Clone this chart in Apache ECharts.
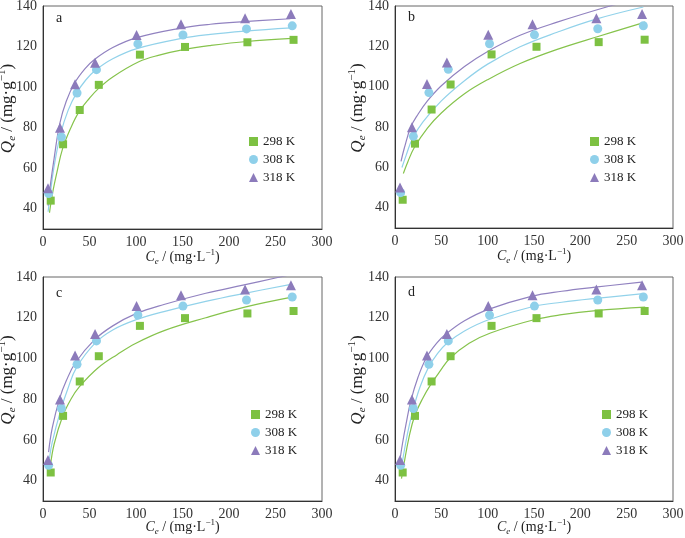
<!DOCTYPE html>
<html><head><meta charset="utf-8">
<script src="https://cdn.jsdelivr.net/npm/echarts@6/dist/echarts.min.js"></script>
<style>html,body{margin:0;padding:0;background:#fff}#c{width:685px;height:538px}</style>
</head><body><div id="c"></div>
<script>
// ---- data ----
const temps = ['298 K', '308 K', '318 K'];
const panelLetters = ['a', 'b', 'c', 'd'];
const xTicks = [0, 50, 100, 150, 200, 250, 300];
const yTicks = [40, 60, 80, 100, 120, 140];

const ce298 = [8.3, 21.6, 39.5, 60, 104.2, 152.7, 219.8, 269.4];
const qe298 = [44, 71.8, 88.7, 101.1, 116, 119.8, 122.1, 123.3];
const ce308 = [6.1, 19.8, 36.6, 57.5, 102, 150.5, 218.8, 268];
const qe308 = [47.5, 75.4, 97.1, 108.6, 121.3, 125.7, 128.7, 130.2];
const ce318 = [5.4, 18.3, 34.5, 56, 100.6, 148.4, 217.3, 266.6];
const qe318 = [50.1, 79.9, 101.4, 112, 125.7, 131, 133.9, 136];

// fitted curves, [Ce, Qe]
const fitA298 = [[7,38],[10,47],[15,58],[21,69.5],[30,80],[39,88],[50,94.5],[59,99],[75,105],[103,112.5],[125,115.8],[151,118.5],[180,120.5],[219,122.5],[268,124]];
const fitA308 = [[5.5,38.5],[8,48],[12,61],[19,77],[27,88.5],[36,97],[46,103.5],[56,108.2],[75,114],[101,119],[149,124],[180,126],[217,127.6],[267,129.2]];
const fitA318 = [[5.4,41.5],[8,52],[12,65],[18,82],[25,93],[34,102],[45,109],[55,113.5],[75,119.5],[100,124.3],[147,129],[180,131],[216,132.3],[266,133.7]];

const fitB298 = [[9,57],[14,63],[21,70],[35,79.5],[50,87],[75,96.5],[100,103.5],[135,111.5],[175,118.5],[220,125],[270,132]];
const fitB308 = [[7.5,60],[12,66],[19,74.5],[30,82.5],[50,93],[75,103],[100,111.2],[135,119.8],[175,127],[217,133.5],[268,139.5]];
const fitB318 = [[6.5,63],[10,69.5],[17,80],[25,86.5],[35,93],[50,100.5],[75,110],[100,117.5],[135,125.5],[175,132],[232,140],[250,142]];

const fitC298 = [[8,47.5],[12,58],[21,71.5],[30,80],[39,86],[59,95.3],[80,102],[100,107.5],[131,113.8],[175,120],[217,125.2],[269,130.2]];
const fitC308 = [[7,51],[10,59],[19,74.5],[27,85.5],[36,95.5],[56,107.5],[75,114],[100,119],[130,123],[175,128],[217,132],[268,136.5]];
const fitC318 = [[6,54],[10,66],[18,80.5],[25,89],[35,98],[55,109],[75,116],[100,122],[130,126.5],[175,132],[215,136],[250,139.5],[265,141]];

const fitD298 = [[7,41],[10,49],[15,61],[21,71.5],[30,80.5],[39,87.5],[49,94],[59,100],[80,107.5],[103,112.5],[150,119],[180,121.5],[217,123.5],[270,125.2]];
const fitD308 = [[6,44],[9,52],[13,62],[19,74],[27,86],[36,95.5],[46,102.5],[56,107.5],[75,113.5],[101,119],[149,125.5],[180,127.6],[217,129.5],[268,131.8]];
const fitD318 = [[5,49],[8,58],[12,68],[17,79],[25,91],[34,100.5],[45,107.5],[55,112],[75,118.5],[100,124],[147,130.5],[180,133],[216,135],[266,137.5]];

// ---- styling ----
const serif = '"Liberation Serif","Times New Roman",serif';
const colors = ['#7dc142', '#8fd0ea', '#8c7bbb'];
const lineColors = ['#86c34c', '#92d2ea', '#9182c0'];
const symbols = ['rect', 'circle', 'triangle'];
const symSizes = [8, 9, 10];

const grids = [
  {left: 43, top: 6, width: 279, height: 223},
  {left: 395, top: 6, width: 278, height: 222},
  {left: 43, top: 277, width: 279, height: 224},
  {left: 395, top: 277, width: 278, height: 224}
];
const yNameGaps = [25, 27, 25, 27];
const xNameGaps = [19, 19, 17, 17];
const legendPos = [
  {left: 249, top: 135},
  {left: 590, top: 135},
  {left: 251, top: 408},
  {left: 602, top: 408}
];
const letterPos = [[60, 19], [412, 18], [60, 294], [412, 293]];

const fits = [
  [fitA298, fitA308, fitA318],
  [fitB298, fitB308, fitB318],
  [fitC298, fitC308, fitC318],
  [fitD298, fitD308, fitD318]
];
const scatters = [
  ce298.map((c, i) => [c, qe298[i]]),
  ce308.map((c, i) => [c, qe308[i]]),
  ce318.map((c, i) => [c, qe318[i]])
];

const richX = {
  i: {fontFamily: serif, fontSize: 14, fontStyle: 'italic', color: '#222', lineHeight: 18},
  n: {fontFamily: serif, fontSize: 14, color: '#222', lineHeight: 18},
  sub: {fontFamily: serif, fontSize: 9, fontStyle: 'italic', color: '#222', verticalAlign: 'bottom', lineHeight: 10},
  sup: {fontFamily: serif, fontSize: 9, color: '#222', verticalAlign: 'top', lineHeight: 10}
};
const richY = {
  i: {fontFamily: serif, fontSize: 17, fontStyle: 'italic', color: '#222', lineHeight: 21},
  n: {fontFamily: serif, fontSize: 17, color: '#222', lineHeight: 21},
  sub: {fontFamily: serif, fontSize: 11, fontStyle: 'italic', color: '#222', verticalAlign: 'bottom', lineHeight: 12},
  sup: {fontFamily: serif, fontSize: 11, color: '#222', verticalAlign: 'top', lineHeight: 12}
};

const option = {
  animation: false,
  backgroundColor: '#fff',
  grid: grids.map(g => Object.assign({show: true, borderColor: '#666', borderWidth: 1, backgroundColor: 'transparent', containLabel: false, outerBoundsMode: 'none'}, g)),
  xAxis: grids.map((g, k) => ({
    type: 'value', gridIndex: k, min: xTicks[0], max: xTicks[xTicks.length - 1], interval: 50,
    axisLine: {show: true, onZero: false, lineStyle: {color: '#333', width: 1}},
    axisTick: {show: false}, splitLine: {show: false},
    axisLabel: {fontFamily: serif, fontSize: 14, color: '#333', margin: 6,
      formatter: v => xTicks.includes(v) ? String(v) : ''},
    name: '{i|C}{sub|e}{n| / (mg·L}{sup|−1}{n|)}',
    nameLocation: 'middle', nameGap: xNameGaps[k], nameMoveOverlap: false,
    nameTextStyle: {rich: richX}
  })),
  yAxis: grids.map((g, k) => ({
    type: 'value', gridIndex: k, min: 30, max: 140, interval: 10,
    axisLine: {show: true, onZero: false, lineStyle: {color: '#333', width: 1}},
    axisTick: {show: false}, splitLine: {show: false},
    axisLabel: {fontFamily: serif, fontSize: 14, color: '#333', margin: 6,
      formatter: v => yTicks.includes(v) ? String(v) : ''},
    name: '{i|Q}{sub|e}{n| / (mg·g}{sup|−1}{n|)}',
    nameLocation: 'middle', nameGap: yNameGaps[k], nameMoveOverlap: false,
    nameTextStyle: {rich: richY, padding: [0, 0, 0, 18]}
  })),
  legend: grids.map((g, k) => ({
    data: temps, orient: 'vertical', left: legendPos[k].left, top: legendPos[k].top,
    itemWidth: 9, itemHeight: 9, itemGap: 5, selectedMode: false, padding: 0,
    textStyle: {fontFamily: serif, fontSize: 13, color: '#222', lineHeight: 13}
  })),
  graphic: letterPos.map((p, k) => ({
    type: 'text', left: p[0] - 4, top: p[1] - 8,
    style: {text: panelLetters[k], font: '14px ' + serif, fill: '#222'}
  })),
  series: []
};

for (let k = 0; k < 4; k++) {
  for (let t = 0; t < 3; t++) {
    option.series.push({
      type: 'line', name: 'fit' + k + '_' + t, xAxisIndex: k, yAxisIndex: k,
      data: fits[k][t], smooth: 0.4, showSymbol: false, clip: true,
      lineStyle: {color: lineColors[t], width: 1.2}, z: 2
    });
  }
  for (let t = 0; t < 3; t++) {
    option.series.push({
      type: 'scatter', name: temps[t], xAxisIndex: k, yAxisIndex: k,
      data: scatters[t], symbol: symbols[t], symbolSize: symSizes[t],
      itemStyle: {color: colors[t], opacity: 1}, z: 3
    });
  }
}

const chart = echarts.init(document.getElementById('c'), null, {renderer: 'canvas'});
chart.setOption(option);
</script>
</body></html>
